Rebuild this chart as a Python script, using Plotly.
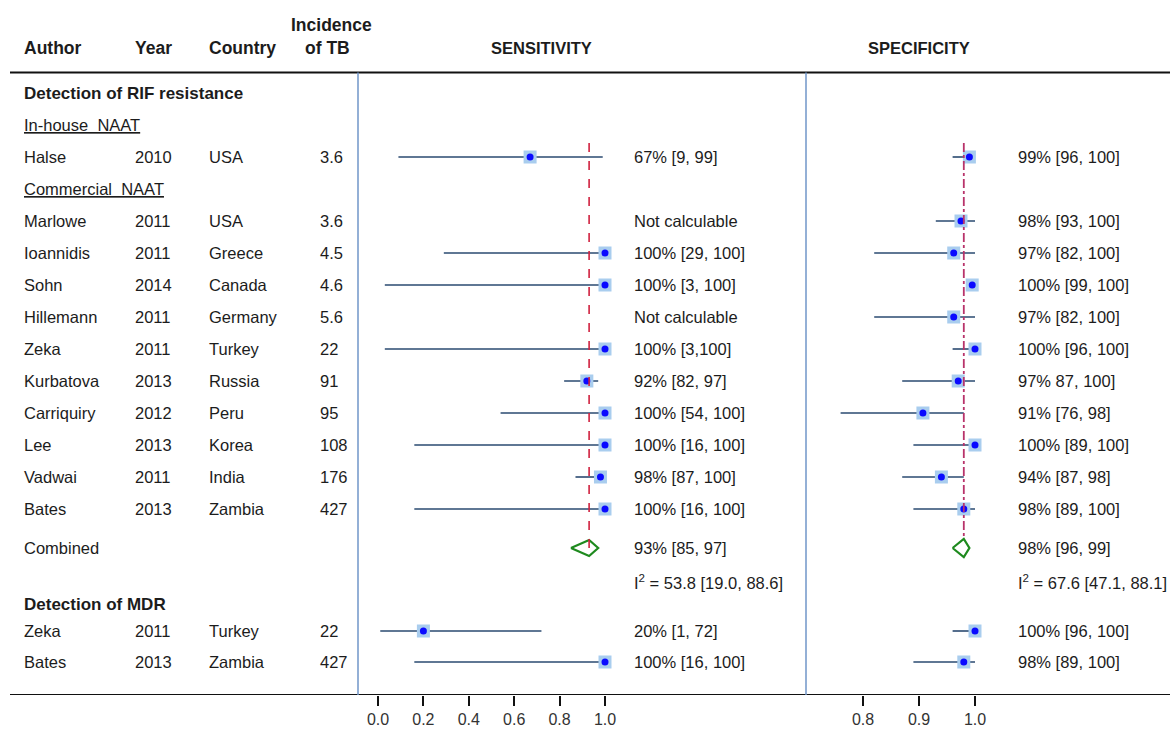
import plotly.graph_objects as go

# ---------------- data ----------------
rif_authors = ["Halse", "Marlowe", "Ioannidis", "Sohn", "Hillemann", "Zeka", "Kurbatova",
               "Carriquiry", "Lee", "Vadwai", "Bates"]
rif_years = ["2010", "2011", "2011", "2014", "2011", "2011", "2013", "2012", "2013", "2011", "2013"]
rif_countries = ["USA", "USA", "Greece", "Canada", "Germany", "Turkey", "Russia", "Peru",
                 "Korea", "India", "Zambia"]
rif_incidence = ["3.6", "3.6", "4.5", "4.6", "5.6", "22", "91", "95", "108", "176", "427"]

rif_sens = [0.67, None, 1.00, 1.00, None, 1.00, 0.92, 1.00, 1.00, 0.98, 1.00]
rif_sens_lo = [0.09, None, 0.29, 0.03, None, 0.03, 0.82, 0.54, 0.16, 0.87, 0.16]
rif_sens_hi = [0.99, None, 1.00, 1.00, None, 1.00, 0.97, 1.00, 1.00, 1.00, 1.00]
rif_sens_txt = ["67% [9, 99]", "Not calculable", "100% [29, 100]", "100% [3, 100]",
                "Not calculable", "100% [3,100]", "92% [82, 97]", "100% [54, 100]",
                "100% [16, 100]", "98% [87, 100]", "100% [16, 100]"]

rif_spec = [0.99, 0.975, 0.962, 0.995, 0.962, 1.00, 0.97, 0.907, 1.00, 0.94, 0.98]
rif_spec_lo = [0.96, 0.93, 0.82, 0.99, 0.82, 0.96, 0.87, 0.76, 0.89, 0.87, 0.89]
rif_spec_hi = [1.00, 1.00, 1.00, 1.00, 1.00, 1.00, 1.00, 0.98, 1.00, 0.98, 1.00]
rif_spec_txt = ["99% [96, 100]", "98% [93, 100]", "97% [82, 100]", "100% [99, 100]",
                "97% [82, 100]", "100% [96, 100]", "97% 87, 100]", "91% [76, 98]",
                "100% [89, 100]", "94% [87, 98]", "98% [89, 100]"]

pooled_sens = [0.85, 0.93, 0.97]
pooled_spec = [0.96, 0.98, 0.99]
pooled_sens_txt = "93% [85, 97]"
pooled_spec_txt = "98% [96, 99]"
i2_sens_txt = "I<sup>2</sup> = 53.8 [19.0, 88.6]"
i2_spec_txt = "I<sup>2</sup> = 67.6 [47.1, 88.1]"

mdr_authors = ["Zeka", "Bates"]
mdr_years = ["2011", "2013"]
mdr_countries = ["Turkey", "Zambia"]
mdr_incidence = ["22", "427"]
mdr_sens = [0.20, 1.00]
mdr_sens_lo = [0.01, 0.16]
mdr_sens_hi = [0.72, 1.00]
mdr_sens_txt = ["20% [1, 72]", "100% [16, 100]"]
mdr_spec = [1.00, 0.98]
mdr_spec_lo = [0.96, 0.89]
mdr_spec_hi = [1.00, 1.00]
mdr_spec_txt = ["100% [96, 100]", "98% [89, 100]"]

sens_ticks = [0.0, 0.2, 0.4, 0.6, 0.8, 1.0]
spec_ticks = [0.8, 0.9, 1.0]

# ---------------- layout positions (pixel rows from top) ----------------
W, H = 1170, 729
Y_RIF_HEAD, Y_INHOUSE, Y_COMM = 93, 125, 189
Y_RIF_ROWS = [157, 221, 253, 285, 317, 349, 381, 413, 445, 477, 509]
Y_COMB, Y_I2, Y_MDR_HEAD = 548, 582, 604
Y_MDR_ROWS = [631, 662]
Y_TOP_LINE, Y_BOTTOM = 72.5, 695
X_LEFT_LINE, X_MID_LINE = 358, 806
COL_X = [22, 133, 207, 318]

FONT = "Liberation Sans, Arial, sans-serif"
TXT = "#1c1c1c"
FS = 16.5
FS_BOLD = 17.5
CI_COLOR = "#2a4a70"
SQ_COLOR = "#a9cdee"
DOT_COLOR = "#0a0aff"
GREEN = "#1e8a1e"

fig = go.Figure()

all_y = Y_RIF_ROWS + Y_MDR_ROWS
sens_p = rif_sens + mdr_sens
sens_l = rif_sens_lo + mdr_sens_lo
sens_h = rif_sens_hi + mdr_sens_hi
spec_p = rif_spec + mdr_spec
spec_l = rif_spec_lo + mdr_spec_lo
spec_h = rif_spec_hi + mdr_spec_hi


def ci_trace(lo, hi, ys, xaxis):
    xs, yy = [], []
    for a, b, y in zip(lo, hi, ys):
        if a is None:
            continue
        xs += [a, b, None]
        yy += [y, y, None]
    return go.Scatter(x=xs, y=yy, mode="lines", xaxis=xaxis, yaxis="y",
                      line=dict(color=CI_COLOR, width=1.6), hoverinfo="skip", showlegend=False)


def pt_traces(p, ys, xaxis):
    xs = [v for v in p if v is not None]
    yy = [y for v, y in zip(p, ys) if v is not None]
    return [
        go.Scatter(x=xs, y=yy, mode="markers", xaxis=xaxis, yaxis="y",
                   marker=dict(symbol="square", size=13, color=SQ_COLOR, line=dict(width=0)),
                   hoverinfo="skip", showlegend=False),
        go.Scatter(x=xs, y=yy, mode="markers", xaxis=xaxis, yaxis="y",
                   marker=dict(symbol="circle", size=7, color=DOT_COLOR, line=dict(width=0)),
                   hoverinfo="skip", showlegend=False),
    ]


fig.add_trace(ci_trace(sens_l, sens_h, all_y, "x"))
fig.add_trace(ci_trace(spec_l, spec_h, all_y, "x2"))
for t in pt_traces(sens_p, all_y, "x") + pt_traces(spec_p, all_y, "x2"):
    fig.add_trace(t)

# pooled reference lines
fig.add_shape(type="line", xref="x", yref="y", x0=pooled_sens[1], x1=pooled_sens[1],
              y0=143, y1=Y_COMB + 8, line=dict(color="#d0213f", width=1.6, dash="dash"))
fig.add_shape(type="line", xref="x2", yref="y", x0=pooled_spec[1], x1=pooled_spec[1],
              y0=143, y1=Y_COMB - 9, line=dict(color="#b8336a", width=1.8, dash="dashdot"))

# pooled diamonds
for pooled, ax, hh in [(pooled_sens, "x", 8), (pooled_spec, "x2", 9)]:
    lo, mid, hi = pooled
    fig.add_trace(go.Scatter(x=[lo, mid, hi, mid, lo],
                             y=[Y_COMB, Y_COMB - hh, Y_COMB, Y_COMB + hh, Y_COMB],
                             mode="lines", xaxis=ax, yaxis="y",
                             line=dict(color=GREEN, width=2.2), hoverinfo="skip", showlegend=False))

ann = []


def txt(x, y, s, bold=False, xanchor="left", size=None, under=False):
    if size is None:
        size = FS_BOLD if bold else FS
    f = dict(family=FONT, size=size, color=TXT)
    if under:
        f["lineposition"] = "under"
    ann.append(dict(x=x / W, xref="paper", y=y, yref="y",
                    text=f"<b>{s}</b>" if bold else s, showarrow=False,
                    xanchor=xanchor, yanchor="middle", font=f))


# headers
txt(COL_X[0], 48, "Author", bold=True)
txt(COL_X[1], 48, "Year", bold=True)
txt(COL_X[2], 48, "Country", bold=True)
txt(331, 25, "Incidence", bold=True, xanchor="center")
txt(327, 48, "of TB", bold=True, xanchor="center")
txt(541, 48, "SENSITIVITY", bold=True, xanchor="center", size=16.5)
txt(919, 48, "SPECIFICITY", bold=True, xanchor="center", size=16.5)

txt(COL_X[0], Y_RIF_HEAD, "Detection of RIF resistance", bold=True, size=17)
txt(COL_X[0], Y_INHOUSE, "In-house  NAAT", under=True)
txt(COL_X[0], Y_COMM, "Commercial  NAAT", under=True)
txt(COL_X[0], Y_COMB, "Combined")
txt(COL_X[0], Y_MDR_HEAD, "Detection of MDR", bold=True, size=17)

rows = list(zip(rif_authors, rif_years, rif_countries, rif_incidence, Y_RIF_ROWS)) + \
       list(zip(mdr_authors, mdr_years, mdr_countries, mdr_incidence, Y_MDR_ROWS))
for a, yr, c, inc, y in rows:
    for cx, s in zip(COL_X, [a, yr, c, inc]):
        txt(cx, y, s)

SENS_TX, SPEC_TX = 632, 1016
for s, y in zip(rif_sens_txt + mdr_sens_txt, all_y):
    txt(SENS_TX, y, s)
for s, y in zip(rif_spec_txt + mdr_spec_txt, all_y):
    txt(SPEC_TX, y, s)
txt(SENS_TX, Y_COMB, pooled_sens_txt)
txt(SPEC_TX, Y_COMB, pooled_spec_txt)
txt(SENS_TX, Y_I2, i2_sens_txt)
txt(SPEC_TX, Y_I2, i2_spec_txt)

# frame lines
shapes = [
    dict(type="line", xref="paper", yref="y", x0=10 / W, x1=1, y0=Y_TOP_LINE, y1=Y_TOP_LINE,
         line=dict(color="#111", width=2)),
    dict(type="line", xref="paper", yref="y", x0=10 / W, x1=1, y0=Y_BOTTOM, y1=Y_BOTTOM,
         line=dict(color="#111", width=2)),
    dict(type="line", xref="paper", yref="y", x0=X_LEFT_LINE / W, x1=X_LEFT_LINE / W,
         y0=Y_TOP_LINE, y1=Y_BOTTOM, line=dict(color="#7196c8", width=1.5)),
    dict(type="line", xref="paper", yref="y", x0=X_MID_LINE / W, x1=X_MID_LINE / W,
         y0=Y_TOP_LINE, y1=Y_BOTTOM, line=dict(color="#7196c8", width=1.5)),
]
for sh in shapes:
    fig.add_shape(**sh)

# axis scales: sensitivity 0 -> 378px, 1 -> 605px ; specificity 1.0 -> 975px, 0.1 = 56px
s0, s1 = 378, 605
sens_range = [(X_LEFT_LINE - s0) / (s1 - s0), (X_MID_LINE - s0) / (s1 - s0)]
p1, ppu = 975, 560
spec_range = [1 + (X_MID_LINE - p1) / ppu, 1 + (W - p1) / ppu]

axis_common = dict(showgrid=False, zeroline=False, showline=False, ticks="outside",
                   ticklen=10, tickwidth=2, tickcolor="#111",
                   tickfont=dict(family=FONT, size=16, color="#333"), fixedrange=True)

fig.update_layout(
    width=W, height=H, margin=dict(l=0, r=0, t=0, b=0),
    paper_bgcolor="white", plot_bgcolor="white", showlegend=False,
    xaxis=dict(domain=[X_LEFT_LINE / W, X_MID_LINE / W], range=sens_range, anchor="y",
               tickvals=sens_ticks, ticktext=[f"{v:.1f}" for v in sens_ticks], **axis_common),
    xaxis2=dict(domain=[X_MID_LINE / W, 1], range=spec_range, anchor="y",
                tickvals=spec_ticks, ticktext=[f"{v:.1f}" for v in spec_ticks], **axis_common),
    yaxis=dict(domain=[1 - Y_BOTTOM / H, 1], range=[Y_BOTTOM, 0], visible=False, fixedrange=True),
    annotations=ann,
)

fig.write_html("out.html")
